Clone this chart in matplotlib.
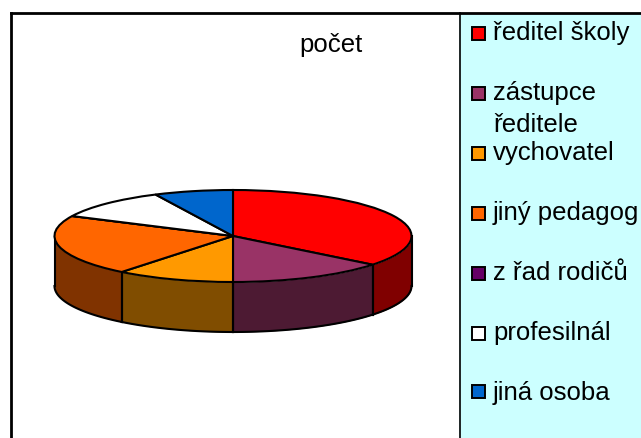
import numpy as np
import matplotlib
matplotlib.use("Agg")
import matplotlib.pyplot as plt
from matplotlib.patches import Rectangle

plt.rcParams['font.family'] = ['Liberation Sans', 'DejaVu Sans']

# data
labels = ["ředitel školy", "zástupce\nředitele", "vychovatel", "jiný pedagog",
          "z řad rodičů", "profesilnál", "jiná osoba"]
values = [10, 4, 3, 6, 0, 3, 2]
colors = ["#FF0000", "#993366", "#FF9900", "#FF6600", "#660066", "#FFFFFF", "#0066CC"]
dark_colors = ["#800000", "#4D1A33", "#804D00", "#803300", "#330033", "#808080", "#003366"]
title = "počet"

W, H = 641, 439
fig = plt.figure(figsize=(W / 100, H / 100), dpi=100, facecolor="white")

# full figure axes in pixels, for frame and legend panel
bg = fig.add_axes([0, 0, 1, 1])
bg.set_xlim(0, W)
bg.set_ylim(H, 0)
bg.axis("off")
bg.add_patch(Rectangle((459, 14), W - 459, H - 14, fc="#CCFFFF", ec="none"))
bg.plot([11, 11], [H, 14], color="black", lw=2, solid_capstyle="projecting")
bg.plot([11, W], [14, 14], color="black", lw=2, solid_capstyle="projecting")
bg.plot([459.5, 459.5], [14, H], color="black", lw=1.2)
bg.text(331, 52, title, fontsize=18.5, ha="center", va="baseline")

# ---------------------------
# legend
# ---------------------------
box_y = [34, 94, 154, 214, 274, 334, 393]
text_y = [40, 100, 160, 220, 280, 340, 400]
for name, col, by, ty in zip(labels, colors, box_y, text_y):
    bg.add_patch(Rectangle((472, by - 6.5), 13, 13, fc=col, ec="black", lw=1.4))
    if "\n" in name:
        first, second = name.split("\n")
        bg.text(493, ty, first, fontsize=18.5, va="baseline")
        bg.text(493, ty + 32, second, fontsize=18.5, va="baseline")
    else:
        bg.text(493, ty, name, fontsize=18.5, va="baseline")

# ---------------------------
# pie, squashed to look 3D
# ---------------------------
cx, cy, rx, ry, depth = 233, 237, 178.5, 46, 50
ax = fig.add_axes([(cx - rx) / W, 1 - (cy + ry + depth) / H, 2 * rx / W, (2 * ry + depth) / H])
ax.patch.set_alpha(0)

drop = 2 * depth / (2 * ry)  # wall height in pie units

# side walls, only the front half of the disc shows
edges = np.cumsum([0] + values) / sum(values) * 360
for i, col in enumerate(dark_colors):
    a0, a1 = max(edges[i], 90), min(edges[i + 1], 270)
    if a1 <= a0:
        continue
    t = np.radians(np.linspace(a0, a1, 80))
    x = np.sin(t)
    y = np.cos(t)
    ax.fill_between(x, y, y - drop, color=col, lw=0, zorder=1)
    ax.plot(x, y - drop, color="black", lw=1.5, zorder=2)
    for xe, ye in [(x[0], y[0]), (x[-1], y[-1])]:
        ax.plot([xe, xe], [ye, ye - drop], color="black", lw=1.5, zorder=2)

wedges, _ = ax.pie(values, colors=colors, startangle=90, counterclock=False,
                   wedgeprops=dict(edgecolor="black", linewidth=1.5))
for w in wedges:
    w.set_zorder(3)
ax.set_aspect("auto")
ax.set_xlim(-1, 1)
ax.set_ylim(-1 - drop, 1)
ax.axis("off")
for art in ax.get_children():
    art.set_clip_on(False)

fig.savefig("out.png", dpi=100)
